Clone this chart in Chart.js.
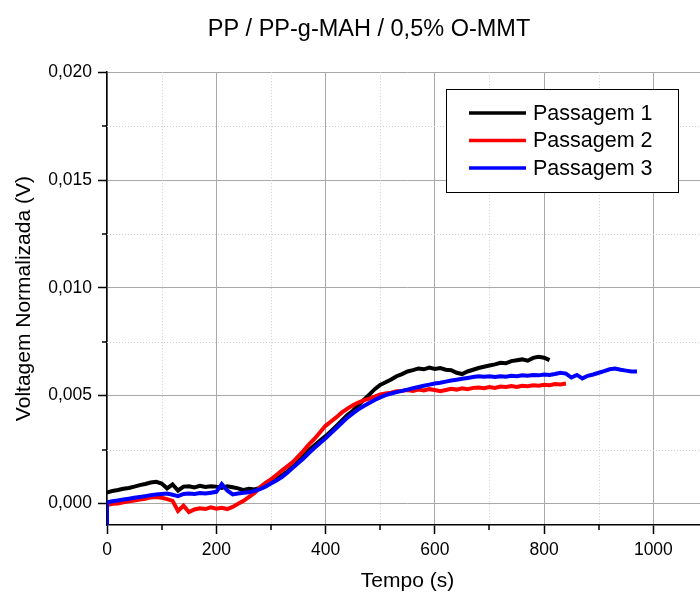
<!DOCTYPE html>
<html lang="pt">
<head>
<meta charset="utf-8">
<script src="https://cdn.jsdelivr.net/npm/chart.js@4.4.1/dist/chart.umd.min.js"></script>
<style>
  html, body { margin: 0; padding: 0; background: #fff; overflow: hidden; }
  #wrap { width: 740px; height: 594px; }
</style>
</head>
<body>
<div id="wrap"><canvas id="grafico" width="740" height="594"></canvas></div>
<script>
// Tempo de amostragem (s) entre pontos
const passo = 10;

const rotulos = ['Passagem 1', 'Passagem 2', 'Passagem 3'];
const cores = ['#000000', '#ff0000', '#0000ff'];

// Voltagem normalizada (V), um valor a cada 10 s
const passagem1 = [
  0.00050, 0.00058, 0.00062, 0.00068, 0.00072, 0.00078, 0.00085, 0.00090, 0.00097, 0.00100,
  0.00092, 0.00070, 0.00088, 0.00060, 0.00078, 0.00080, 0.00074, 0.00082, 0.00076, 0.00080,
  0.00078, 0.00072, 0.00080, 0.00075, 0.00070, 0.00062, 0.00068, 0.00065, 0.00072, 0.00085,
  0.00098, 0.00112, 0.00130, 0.00148, 0.00170, 0.00195, 0.00222, 0.00248, 0.00270, 0.00292,
  0.00312, 0.00335, 0.00360, 0.00385, 0.00410, 0.00430, 0.00455, 0.00480, 0.00505, 0.00530,
  0.00550, 0.00562, 0.00575, 0.00590, 0.00600, 0.00612, 0.00618, 0.00626, 0.00622, 0.00630,
  0.00624, 0.00628, 0.00620, 0.00618, 0.00606, 0.00600, 0.00612, 0.00620, 0.00628, 0.00634,
  0.00640, 0.00645, 0.00652, 0.00650, 0.00660, 0.00664, 0.00668, 0.00662, 0.00675, 0.00680,
  0.00676, 0.00665
];

const passagem2 = [
  -0.00008, -0.00002, 0.00000, 0.00005, 0.00010, 0.00014, 0.00018, 0.00022, 0.00028, 0.00030,
  0.00026, 0.00020, 0.00012, -0.00035, -0.00010, -0.00040, -0.00028, -0.00022, -0.00026, -0.00018,
  -0.00024, -0.00020, -0.00026, -0.00016, -0.00002, 0.00012, 0.00030, 0.00048, 0.00075, 0.00095,
  0.00112, 0.00132, 0.00152, 0.00172, 0.00192, 0.00218, 0.00245, 0.00275, 0.00300, 0.00330,
  0.00360, 0.00380, 0.00400, 0.00422, 0.00440, 0.00455, 0.00468, 0.00478, 0.00486, 0.00495,
  0.00505, 0.00510, 0.00514, 0.00520, 0.00522, 0.00526, 0.00522, 0.00528, 0.00524, 0.00530,
  0.00526, 0.00520, 0.00526, 0.00532, 0.00528, 0.00534, 0.00530, 0.00536, 0.00538, 0.00534,
  0.00540, 0.00536, 0.00542, 0.00540, 0.00544, 0.00540, 0.00546, 0.00544, 0.00548, 0.00546,
  0.00550, 0.00548, 0.00554, 0.00552, 0.00556
];

// primeiro registro da passagem 3 (queda no instante zero)
const inicioPassagem3 = -0.00105;
const passagem3 = [
  0.00005, 0.00010, 0.00014, 0.00018, 0.00022, 0.00026, 0.00030, 0.00034, 0.00038, 0.00042,
  0.00044, 0.00046, 0.00040, 0.00034, 0.00044, 0.00046, 0.00044, 0.00048, 0.00046, 0.00050,
  0.00054, 0.00090, 0.00060, 0.00042, 0.00046, 0.00050, 0.00052, 0.00058, 0.00066, 0.00078,
  0.00092, 0.00106, 0.00122, 0.00142, 0.00165, 0.00188, 0.00210, 0.00235, 0.00258, 0.00280,
  0.00302, 0.00326, 0.00350, 0.00374, 0.00398, 0.00418, 0.00436, 0.00452, 0.00466, 0.00480,
  0.00492, 0.00502, 0.00510, 0.00516, 0.00522, 0.00528, 0.00534, 0.00540, 0.00546, 0.00551,
  0.00556, 0.00560, 0.00565, 0.00570, 0.00574, 0.00578, 0.00582, 0.00586, 0.00590, 0.00588,
  0.00590, 0.00586, 0.00590, 0.00588, 0.00592, 0.00590, 0.00594, 0.00592, 0.00596, 0.00594,
  0.00598, 0.00596, 0.00600, 0.00606, 0.00602, 0.00584, 0.00596, 0.00580, 0.00592, 0.00598,
  0.00606, 0.00614, 0.00622, 0.00626, 0.00620, 0.00616, 0.00612, 0.00612
];

// ticks principais (com rotulo)
const ticksX = [0, 200, 400, 600, 800, 1000];
const ticksY = [0, 0.005, 0.010, 0.015, 0.020];
// ticks secundarios (linhas pontilhadas)
const ticksMenoresX = [100, 300, 500, 700, 900];
const ticksMenoresY = [0.0025, 0.0075, 0.0125, 0.0175];

const fonte = 'Liberation Sans';

function pontos(serie) {
  return serie.map((v, i) => ({ x: i * passo, y: v }));
}

function fixarTicks(valores) {
  return function(scale) {
    scale.ticks = valores.map(v => ({ value: v }));
  };
}

// grade pontilhada + ticks menores
const gradeSecundaria = {
  id: 'gradeSecundaria',
  beforeDatasetsDraw(chart) {
    const { ctx, chartArea: a, scales: { x, y } } = chart;
    ctx.save();
    ctx.strokeStyle = '#cfcfcf';
    ctx.lineWidth = 1;
    ctx.setLineDash([1, 2]);
    ticksMenoresX.forEach(v => {
      const px = Math.round(x.getPixelForValue(v)) + 0.5;
      ctx.beginPath(); ctx.moveTo(px, a.top); ctx.lineTo(px, a.bottom); ctx.stroke();
    });
    ticksMenoresY.forEach(v => {
      const py = Math.round(y.getPixelForValue(v)) + 0.5;
      ctx.beginPath(); ctx.moveTo(a.left, py); ctx.lineTo(a.right, py); ctx.stroke();
    });
    ctx.restore();
  },
  afterDraw(chart) {
    const { ctx, chartArea: a, scales: { x, y } } = chart;
    ctx.save();
    ctx.strokeStyle = '#000';
    ctx.lineWidth = 1.5;
    ticksMenoresX.forEach(v => {
      const px = Math.round(x.getPixelForValue(v));
      ctx.beginPath(); ctx.moveTo(px, a.bottom); ctx.lineTo(px, a.bottom + 5); ctx.stroke();
    });
    ticksMenoresY.forEach(v => {
      const py = Math.round(y.getPixelForValue(v));
      ctx.beginPath(); ctx.moveTo(a.left - 5, py); ctx.lineTo(a.left, py); ctx.stroke();
    });
    ctx.restore();
  }
};

// legenda em caixa dentro da area do grafico
const legendaCaixa = {
  id: 'legendaCaixa',
  afterDraw(chart) {
    const { ctx, chartArea: a } = chart;
    const w = 232, h = 103;
    const x0 = Math.round(a.right - 30 - w), y0 = Math.round(a.top + 17);
    ctx.save();
    ctx.fillStyle = '#fff';
    ctx.fillRect(x0, y0, w, h);
    ctx.strokeStyle = '#000';
    ctx.lineWidth = 1;
    ctx.strokeRect(x0 + 0.5, y0 + 0.5, w, h);
    ctx.font = '21.5px "' + fonte + '"';
    ctx.textBaseline = 'middle';
    chart.data.datasets.forEach((ds, i) => {
      const yy = y0 + 24 + i * 27.5;
      ctx.strokeStyle = ds.borderColor;
      ctx.lineWidth = 3.5;
      ctx.beginPath(); ctx.moveTo(x0 + 23, yy); ctx.lineTo(x0 + 80, yy); ctx.stroke();
      ctx.fillStyle = '#000';
      ctx.fillText(ds.label, x0 + 87, yy + 1);
    });
    ctx.restore();
  }
};

const series = [
  pontos(passagem1),
  pontos(passagem2),
  [{ x: 0, y: inicioPassagem3 }].concat(pontos(passagem3))
];

new Chart(document.getElementById('grafico'), {
  type: 'line',
  data: {
    datasets: series.map((d, i) => ({
      label: rotulos[i],
      data: d,
      borderColor: cores[i],
      backgroundColor: cores[i],
      borderWidth: 4,
      pointRadius: 0,
      tension: 0,
      order: 3 - i
    }))
  },
  plugins: [gradeSecundaria, legendaCaixa],
  options: {
    responsive: false,
    animation: false,
    layout: { padding: { left: 30, right: 32, top: 0, bottom: 0 } },
    plugins: {
      legend: { display: false },
      tooltip: { enabled: false },
      title: {
        display: true,
        text: 'PP / PP-g-MAH / 0,5% O-MMT',
        color: '#000',
        font: { family: fonte, size: 23.5, weight: 'normal' },
        padding: { top: 15, bottom: 29 }
      }
    },
    scales: {
      x: {
        type: 'linear',
        min: 0,
        max: 1100,
        afterBuildTicks: fixarTicks(ticksX),
        afterFit: s => { s.height = 69; },
        ticks: {
          maxRotation: 0,
          autoSkip: false,
          padding: 6,
          color: '#000',
          font: { family: fonte, size: 17.5 },
          callback: v => String(v)
        },
        grid: { color: '#a8a8a8', lineWidth: 1, tickColor: '#000', tickLength: 9, tickWidth: 1.5 },
        border: { color: '#000', width: 1.5 },
        title: {
          display: true,
          text: 'Tempo (s)',
          color: '#000',
          font: { family: fonte, size: 21 },
          padding: { top: 0, bottom: 0 }
        }
      },
      y: {
        min: -0.001,
        max: 0.020,
        afterBuildTicks: fixarTicks(ticksY),
        afterFit: s => { s.width = 77; },
        ticks: {
          autoSkip: false,
          padding: 6,
          color: '#000',
          font: { family: fonte, size: 17.5 },
          callback: v => v.toFixed(3).replace('.', ',')
        },
        grid: { color: '#a8a8a8', lineWidth: 1, tickColor: '#000', tickLength: 9, tickWidth: 1.5 },
        border: { color: '#000', width: 1.5 },
        title: {
          display: true,
          text: 'Voltagem Normalizada (V)',
          color: '#000',
          font: { family: fonte, size: 21 },
          padding: { top: -18, bottom: 0 }
        }
      }
    }
  }
});
</script>
</body>
</html>
